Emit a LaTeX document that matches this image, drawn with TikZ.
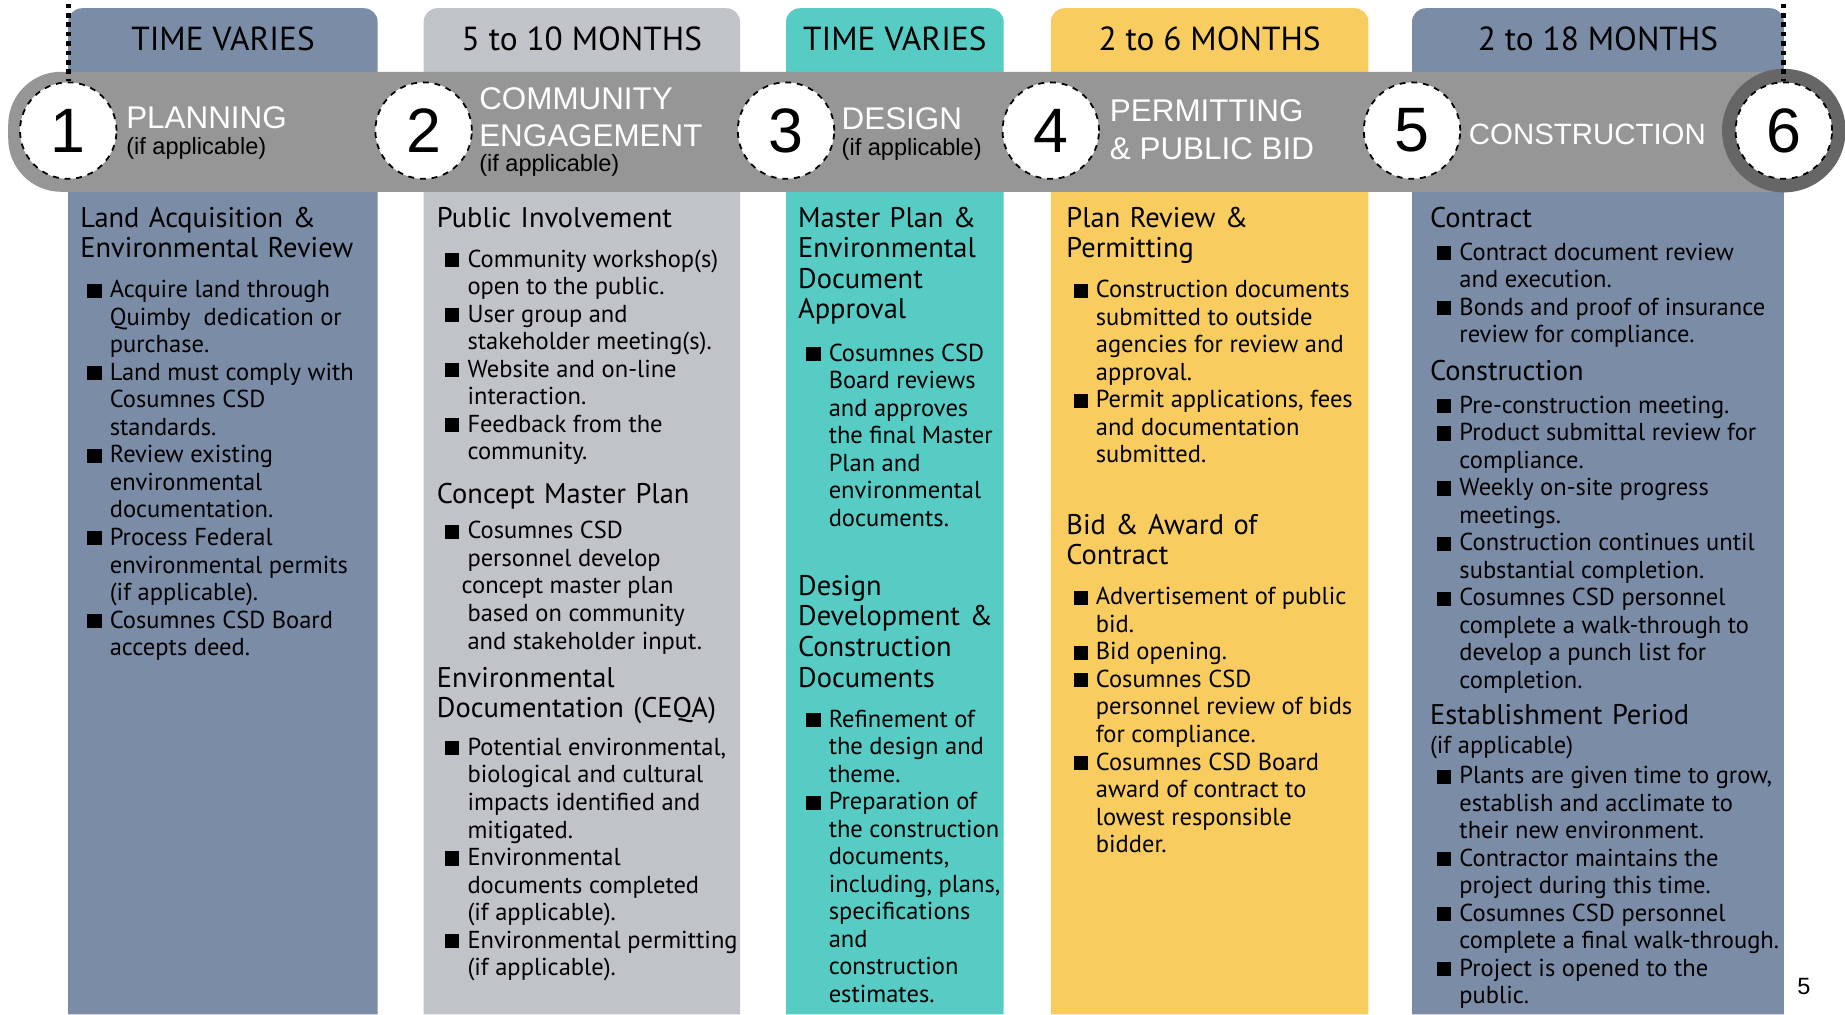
\documentclass[tikz,border=0pt]{standalone}
\usepackage{fontspec}
\setmainfont{PT Sans}
\newfontfamily\arialfont{Liberation Sans}

\definecolor{slateblue}{HTML}{7B8CA7}
\definecolor{lightgrey}{HTML}{C0C3C8}
\definecolor{aqua}{HTML}{56CCC4}
\definecolor{sunny}{HTML}{F8CC5F}
\definecolor{bandgrey}{HTML}{969696}
\definecolor{ringgrey}{HTML}{666666}

% square bullet; task lists are two-column tables (bullet | line)
\newcommand{\bsq}{\rule{7.2pt}{7.2pt}}
\newcommand{\itm}{\bsq &}
\newenvironment{tasks}{\begin{tabular}[t]{@{}p{11.4pt}@{}l@{}}}{\end{tabular}}

\tikzset{
  phasehead/.style={inner sep=0pt, text=black, font=\fontsize{17}{20}\selectfont},
  phasecircle/.style={circle, fill=white, draw=black, dashed, line width=0.9pt,
    minimum size=49.2pt, inner sep=0pt, font=\arialfont\fontsize{32}{36}\selectfont},
  phasetitle/.style={anchor=west, inner sep=0pt, text=white, font=\arialfont\fontsize{16}{18}\selectfont},
  phasenote/.style={anchor=west, inner sep=0pt, text=black, font=\arialfont\fontsize{12}{14}\selectfont},
  sectionhead/.style={anchor=base west, inner sep=0pt, text width=170pt, font=\fontsize{14.5}{15.6}\selectfont},
  tasklist/.style={anchor=base west, inner sep=0pt, font=\fontsize{12.5}{14.04}\selectfont},
  milestone/.style={line width=2.4pt, dash pattern=on 2.4pt off 2.4pt},
}

\begin{document}
\begin{tikzpicture}[x=0.6pt, y=-0.6pt]
    \useasboundingbox (0,0) rectangle (1568,862);

    % 1) Coloured columns with their durations on top
    \foreach \xa/\xb/\col/\dur [count=\i] in {58/321/slateblue/TIME VARIES,
        360/629/lightgrey/5 to 10 MONTHS, 668/853/aqua/TIME VARIES,
        893/1163/sunny/2 to 6 MONTHS, 1200/1516/slateblue/2 to 18 MONTHS} {
      \fill[\col, rounded corners=7pt] (\xa,862) -- (\xa,7) -- (\xb,7) -- (\xb,862);
      \node[phasehead] (dur\i) at ({(\xa+\xb)/2},33) {\dur};
    }

    % 2) Grey band across the columns, ring round the last step
    \fill[bandgrey, rounded corners=27pt] (1516,61) -- (7,61) -- (7,163) -- (1516,163);
    \fill[ringgrey] (1516,111) circle[radius=31.5pt];

    % 3) Numbered steps
    \foreach \n/\x in {1/58, 2/360, 3/668, 4/893, 5/1200, 6/1516} {
      \node[phasecircle] (c\n) at (\x,111) {\n};
    }
    \coordinate (top1) at (58,3);
    \coordinate (top6) at (1516,3);
    \draw[milestone] (top1) -- (c1.north);
    \draw[milestone] (top6) -- (c6.north);

    % 4) Step names in the band
    \node[phasetitle] (planning) at (107,100) {PLANNING};
    \node[phasenote] (planningnote) at (107,126) {(if applicable)};
    \node[phasetitle] (community) at (407,84) {COMMUNITY};
    \node[phasetitle] (engagement) at (407,115) {ENGAGEMENT};
    \node[phasenote] (engagementnote) at (407,141) {(if applicable)};
    \node[phasetitle] (design) at (715,101) {DESIGN};
    \node[phasenote] (designnote) at (715,127) {(if applicable)};
    \node[phasetitle] (permitting) at (943,94) {PERMITTING};
    \node[phasetitle] (publicbid) at (943,126) {\& PUBLIC BID};
    \node[phasetitle, font=\arialfont\fontsize{15}{18}\selectfont] (construction) at (1248,114) {CONSTRUCTION};

    % 5) Column 1
    \node[sectionhead] (land) at (68,193) {Land Acquisition \&\\Environmental Review};
    \node[tasklist] (landtasks) at (74,253) {\begin{tasks}
      \itm Acquire land through\\ & Quimby\ \ dedication or\\ & purchase.\\
      \itm Land must comply with\\ & Cosumnes CSD\\ & standards.\\
      \itm Review existing\\ & environmental\\ & documentation.\\
      \itm Process Federal\\ & environmental permits\\ & (if applicable).\\
      \itm Cosumnes CSD Board\\ & accepts deed.
    \end{tasks}};

    % 6) Column 2
    \node[sectionhead] (public) at (371,193) {Public Involvement};
    \node[tasklist] (publictasks) at (378,227) {\begin{tasks}
      \itm Community workshop(s)\\ & open to the public.\\
      \itm User group and\\ & stakeholder meeting(s).\\
      \itm Website and on-line\\ & interaction.\\
      \itm Feedback from the\\ & community.
    \end{tasks}};
    \node[sectionhead] (concept) at (371,428) {Concept Master Plan};
    \node[tasklist] (concepttasks) at (378,458) {\begin{tasks}
      \itm Cosumnes CSD\\ & personnel develop\\ & \hspace*{-3pt}concept master plan\\
      & based on community\\ & and stakeholder input.
    \end{tasks}};
    \node[sectionhead] (ceqa) at (371,584) {Environmental\\Documentation (CEQA)};
    \node[tasklist] (ceqatasks) at (378,642) {\begin{tasks}
      \itm Potential environmental,\\ & biological and cultural\\ & impacts identified and\\ & mitigated.\\
      \itm Environmental\\ & documents completed\\ & (if applicable).\\
      \itm Environmental permitting\\ & (if applicable).
    \end{tasks}};

    % 7) Column 3
    \node[sectionhead] (master) at (678,193) {Master Plan \&\\Environmental\\Document\\Approval};
    \node[tasklist] (mastertasks) at (685,307) {\begin{tasks}
      \itm Cosumnes CSD\\ & Board reviews\\ & and approves\\ & the final Master\\
      & Plan and\\ & environmental\\ & documents.
    \end{tasks}};
    \node[sectionhead] (devel) at (678,506) {Design\\Development \&\\Construction\\Documents};
    \node[tasklist] (develtasks) at (685,618) {\begin{tasks}
      \itm Refinement of\\ & the design and\\ & theme.\\
      \itm Preparation of\\ & the construction\\ & documents,\\ & including, plans,\\
      & specifications\\ & and\\ & construction\\ & estimates.
    \end{tasks}};

    % 8) Column 4
    \node[sectionhead] (review) at (906,193) {Plan Review \&\\Permitting};
    \node[tasklist] (reviewtasks) at (912,253) {\begin{tasks}
      \itm Construction documents\\ & submitted to outside\\ & agencies for review and\\ & approval.\\
      \itm Permit applications, fees\\ & and documentation\\ & submitted.
    \end{tasks}};
    \node[sectionhead] (bid) at (906,454) {Bid \& Award of\\Contract};
    \node[tasklist] (bidtasks) at (912,514) {\begin{tasks}
      \itm Advertisement of public\\ & bid.\\
      \itm Bid opening.\\
      \itm Cosumnes CSD\\ & personnel review of bids\\ & for compliance.\\
      \itm Cosumnes CSD Board\\ & award of contract to\\ & lowest responsible\\ & bidder.
    \end{tasks}};

    % 9) Column 5
    \node[sectionhead] (contract) at (1215,193) {Contract};
    \node[tasklist] (contracttasks) at (1221,221) {\begin{tasks}
      \itm Contract document review\\ & and execution.\\
      \itm Bonds and proof of insurance\\ & review for compliance.
    \end{tasks}};
    \node[sectionhead] (build) at (1215,323) {Construction};
    \node[tasklist] (buildtasks) at (1221,351) {\begin{tasks}
      \itm Pre-construction meeting.\\
      \itm Product submittal review for\\ & compliance.\\
      \itm Weekly on-site progress\\ & meetings.\\
      \itm Construction continues until\\ & substantial completion.\\
      \itm Cosumnes CSD personnel\\ & complete a walk-through to\\ & develop a punch list for\\ & completion.
    \end{tasks}};
    \node[sectionhead] (establish) at (1215,616) {Establishment Period};
    \node[tasklist] (establishnote) at (1215,640) {(if applicable)};
    \node[tasklist] (establishtasks) at (1221,666) {\begin{tasks}
      \itm Plants are given time to grow,\\ & establish and acclimate to\\ & their new environment.\\
      \itm Contractor maintains the\\ & project during this time.\\
      \itm Cosumnes CSD personnel\\ & complete a final walk-through.\\
      \itm Project is opened to the\\ & public.
    \end{tasks}};

    % 10) Page number
    \node[phasenote, anchor=center] (pagenum) at (1533,838) {5};
\end{tikzpicture}
\end{document}
